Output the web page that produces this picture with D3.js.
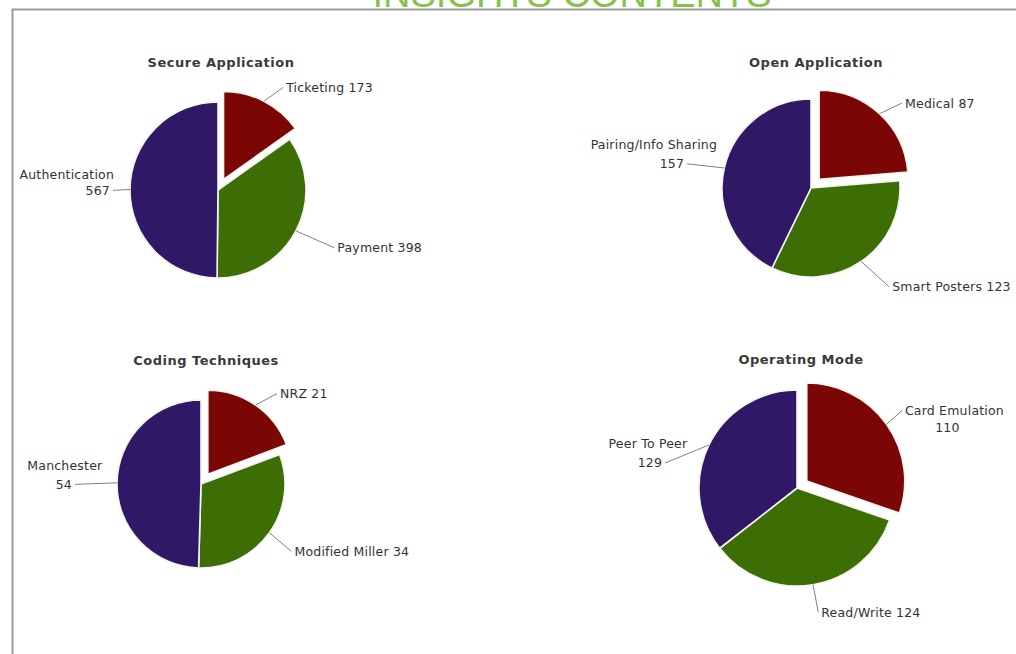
<!DOCTYPE html>
<html>
<head>
<meta charset="utf-8">
<script src="https://cdn.jsdelivr.net/npm/d3@7"></script>
<style>
  html, body { margin: 0; padding: 0; background: #fff; }
  svg { display: block; }
</style>
</head>
<body>
<svg id="chart" width="1016" height="654"></svg>
<script>
// ---------- DATA ----------
const pageTitle = "INSIGHTS CONTENTS";
const chartTitles = ["Secure Application", "Open Application", "Coding Techniques", "Operating Mode"];

const secureCats = ["Ticketing", "Payment", "Authentication"];
const secureVals = [173, 398, 567];

const openCats = ["Medical", "Smart Posters", "Pairing/Info Sharing"];
const openVals = [87, 123, 157];

const codingCats = ["NRZ", "Modified Miller", "Manchester"];
const codingVals = [21, 34, 54];

const modeCats = ["Card Emulation", "Read/Write", "Peer To Peer"];
const modeVals = [110, 124, 129];

const sliceColors = ["#7a0606", "#3d6e06", "#2f1966"];

// ---------- LAYOUT (positions/sizes only) ----------
const layout = [
  { cx: 218, cy: 190, r: 88, tx: 221, ty: 62, lineGap: 16,
    nudge: [[10, 4], [10, 2], [15, 1]], nameShift: [0, 0, -31] },
  { cx: 811, cy: 188, r: 89, tx: 816, ty: 62, lineGap: 19,
    nudge: [[9, 4], [10, -1], [-6, 3]], nameShift: [0, 0, -18] },
  { cx: 201, cy: 484, r: 84, tx: 206, ty: 360, lineGap: 19,
    nudge: [[10, 5], [-4, 0], [-10, 2]], nameShift: [0, 0, 1] },
  { cx: 797, cy: 488, r: 98, tx: 801, ty: 359, lineGap: 19,
    nudge: [[-1, -2], [0, -4], [-15, 32]], nameShift: [-7, 0, -2] }
];
const explode = 12;
const labelGap = 32;
const wrapLimit = 1022;

const charts = [
  { cats: secureCats, vals: secureVals },
  { cats: openCats, vals: openVals },
  { cats: codingCats, vals: codingVals },
  { cats: modeCats, vals: modeVals }
];

const svg = d3.select("#chart");

// frame
svg.append("line").attr("x1", 12).attr("y1", 9.5).attr("x2", 1016).attr("y2", 9.5)
  .attr("stroke", "#9c9c9c").attr("stroke-width", 2);
svg.append("line").attr("x1", 12.5).attr("y1", 9).attr("x2", 12.5).attr("y2", 654)
  .attr("stroke", "#9c9c9c").attr("stroke-width", 2);

// page title (cut off at top, as in the original)
svg.append("text")
  .attr("x", 572).attr("y", 7)
  .attr("text-anchor", "middle")
  .attr("font-family", "Liberation Sans, Arial, sans-serif")
  .attr("font-size", 38)
  .attr("fill", "#86c24a")
  .text(pageTitle);

const pt = (a, R) => [R * Math.sin(a), -R * Math.cos(a)];

charts.forEach((c, ci) => {
  const L = layout[ci];
  const g = svg.append("g");

  g.append("text")
    .attr("x", L.tx).attr("y", L.ty)
    .attr("text-anchor", "middle")
    .attr("dominant-baseline", "central")
    .attr("font-family", "DejaVu Sans, Verdana, sans-serif")
    .attr("font-weight", "bold")
    .attr("font-size", 13)
    .attr("letter-spacing", 0.5)
    .attr("fill", "#3a3a3a")
    .text(chartTitles[ci]);

  const pie = d3.pie().sort(null).value(d => d)(c.vals);
  const arc = d3.arc().innerRadius(0).outerRadius(L.r);

  pie.forEach((d, i) => {
    const mid = (d.startAngle + d.endAngle) / 2;
    const off = i === 0 ? pt(mid, explode) : [0, 0];
    const ox = L.cx + off[0], oy = L.cy + off[1];

    g.append("path")
      .attr("d", arc(d))
      .attr("transform", `translate(${ox},${oy})`)
      .attr("fill", sliceColors[i])
      .attr("stroke", "#f4f4ee")
      .attr("stroke-width", 1.6)
      .attr("stroke-linejoin", "round");

    // leader line
    const s = pt(mid, L.r);
    const sx = ox + s[0], sy = oy + s[1];
    const e = pt(mid, L.r + labelGap);
    const lx = L.cx + e[0] + L.nudge[i][0], ly = L.cy + e[1] + L.nudge[i][1];
    g.append("line")
      .attr("x1", sx).attr("y1", sy).attr("x2", lx).attr("y2", ly)
      .attr("stroke", "#808080")
      .attr("stroke-width", 1);

    const right = lx > L.cx;
    const font = t => t.attr("font-family", "DejaVu Sans, Verdana, sans-serif")
      .attr("font-size", 12.5).attr("letter-spacing", 0.2)
      .attr("fill", "#333").attr("dominant-baseline", "central");

    const name = c.cats[i], val = String(c.vals[i]);
    if (right) {
      const single = g.append("text").call(font)
        .attr("x", lx + 3).attr("y", ly).attr("text-anchor", "start")
        .text(name + " " + val);
      const w = single.node().getComputedTextLength();
      if (lx + 3 + w > wrapLimit) {
        single.text(name);
        const nw = single.node().getComputedTextLength();
        g.append("text").call(font)
          .attr("x", lx + 3 + nw / 2 + L.nameShift[i]).attr("y", ly + 17)
          .attr("text-anchor", "middle").text(val);
      }
    } else {
      const v = g.append("text").call(font)
        .attr("x", lx - 3).attr("y", ly).attr("text-anchor", "end").text(val);
      const vw = v.node().getComputedTextLength();
      g.append("text").call(font)
        .attr("x", lx - 3 - vw / 2 + L.nameShift[i]).attr("y", ly - L.lineGap)
        .attr("text-anchor", "middle").text(name);
    }
  });
});
</script>
</body>
</html>
